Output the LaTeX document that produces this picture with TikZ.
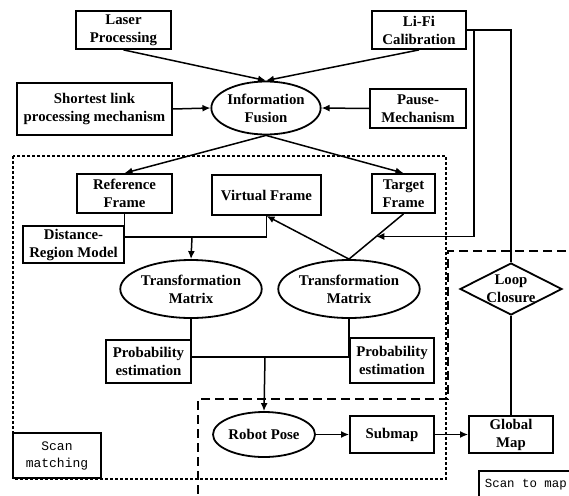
\documentclass[tikz,border=0pt]{standalone}
\usepackage{fontspec}
\setmainfont{Liberation Serif}
\setmonofont{Liberation Mono}
\usetikzlibrary{shapes.geometric,arrows.meta,calc}
\begin{document}
\begin{tikzpicture}[x=1pt,y=-1pt,
  font=\fontsize{14.8}{18}\selectfont\bfseries,
  box/.style={draw,line width=1.8pt,rectangle,inner sep=1pt,align=center},
  ell/.style={draw,line width=1.8pt,ellipse,inner sep=0pt,align=center},
  mono/.style={draw,line width=1.8pt,rectangle,inner sep=1pt,align=center,font=\fontsize{13}{17}\selectfont\ttfamily},
  conn/.style={line width=1.5pt},
  arr/.style={line width=1.5pt,-{Latex[length=8pt,width=7pt]}},
  dotbox/.style={line width=2.4pt,dash pattern=on 3pt off 2pt},
  dashbox/.style={line width=1.8pt,dash pattern=on 9pt off 5pt}]
\useasboundingbox (0,0) rectangle (569,495);
\fill[white] (0,0) rectangle (569,495);

% regions
\draw[dotbox] (13,156) rectangle (446,479);
\draw[dashbox] (580,251) -- (448,251) -- (448,399) -- (198,399) -- (198,500);

% nodes
\node[box,minimum width=95pt,minimum height=38pt] (laser) at (123.5,30) {Laser\\Processing};
\node[box,minimum width=94pt,minimum height=38pt] (lifi) at (419,30) {Li-Fi\\Calibration};
\node[box,minimum width=155pt,minimum height=52pt] (short) at (94.5,109) {Shortest link\\processing mechanism};
\node[box,minimum width=96pt,minimum height=39pt] (pause) at (418,108.5) {Pause-\\Mechanism};
\node[ell,minimum width=107pt,minimum height=53pt] (fusion) at (266,108) {Information\\Fusion};
\node[box,minimum width=95pt,minimum height=39pt] (ref) at (124.5,193.5) {Reference\\Frame};
\node[box,minimum width=109pt,minimum height=40pt] (virt) at (266.5,195) {Virtual Frame};
\node[box,minimum width=63pt,minimum height=39pt] (target) at (403.5,193.5) {Target\\Frame};
\node[box,minimum width=101pt,minimum height=37pt] (dist) at (73.5,244.5) {Distance-\\Region Model};
\node[ell,minimum width=132pt,minimum height=58pt] (tm1) at (191,289) {Transformation\\Matrix};
\node[ell,minimum width=132pt,minimum height=58pt] (tm2) at (349,289) {Transformation\\Matrix};
\node[box,minimum width=85pt,minimum height=43pt] (prob1) at (148.5,361.5) {Probability\\estimation};
\node[box,minimum width=84pt,minimum height=45pt] (prob2) at (392,360.5) {Probability\\estimation};
\node[ell,minimum width=102pt,minimum height=45pt] (robot) at (264,434.5) {Robot Pose};
\node[box,minimum width=84pt,minimum height=37pt] (submap) at (392,434.5) {Submap};
\node[box,minimum width=84pt,minimum height=37pt] (global) at (511,434.5) {Global\\Map};
\node[draw,line width=1.8pt,diamond,inner sep=0pt,minimum width=102pt,minimum height=52pt] (loop) at (511,289) {};
\node[align=center] (looptext) at (loop.center) {Loop\\Closure};
\node[mono,minimum width=88pt,minimum height=45pt] (scanm) at (57,455.5) {Scan\\matching};
\node[mono,anchor=north west,inner xsep=6pt,minimum height=28pt,font=\fontsize{12.4}{17}\selectfont\ttfamily] (scanmap) at (478,470) {Scan to map};

% connectors
\draw[arr] (laser.south) -- (fusion.north);
\draw[arr] (lifi.south) -- (fusion.north);
\draw[arr] (short.east) -- (fusion.west);
\draw[arr] (pause.west) -- (fusion.east);
\draw[arr] (fusion.south) -- (ref.north);
\draw[arr] (fusion.south) -- (target.north);

\coordinate (j1) at (192,237);
\draw[conn] (ref.south) -- (ref.south |- j1) -- (virt.south |- j1) -- (virt.south);
\draw[arr] (j1) -- (tm1.north);
\draw[arr] (tm2.north) -- (virt.south);
\draw[conn] (tm2.north) -- (target.south);

\coordinate (mid) at ($(target.south)!0.5!(tm2.north)$);
\coordinate (lf1) at (474,30);
\draw[conn] (lifi.east) -- (loop.north |- lifi.east) -- (loop.north);
\draw[arr] (lf1) -- (lf1 |- mid) -- (mid);
\draw[conn] (loop.south) -- (global.north);

\coordinate (j2) at (265,357);
\draw[conn] (tm1.south) -- (tm1.south |- j2) -- (tm2.south |- j2) -- (tm2.south);
\draw[arr] (j2) -- (robot.north);
\draw[arr] (robot.east) -- (submap.west);
\draw[arr] (submap.east) -- (global.west);
\end{tikzpicture}
\end{document}
